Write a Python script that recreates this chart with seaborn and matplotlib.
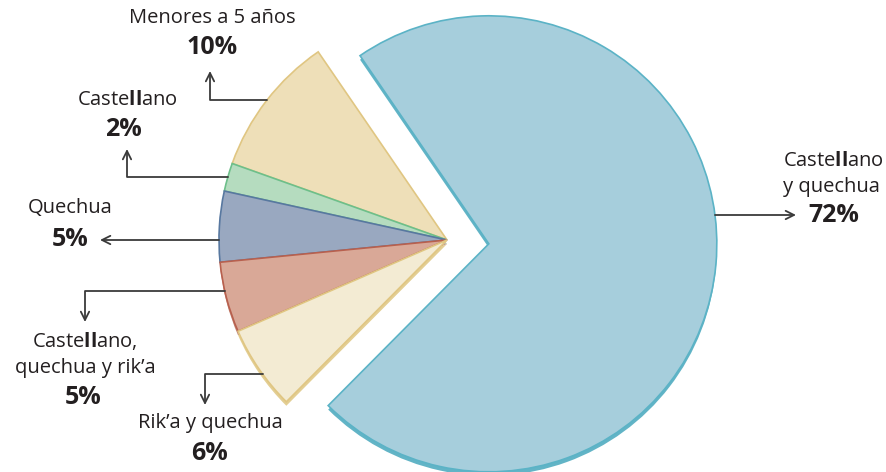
import numpy as np
import matplotlib
matplotlib.use('Agg')
import matplotlib.pyplot as plt
import seaborn as sns

# Data (shares in %)
categories = ['Menores a 5 años', 'Castellano', 'Quechua',
              'Castellano, quechua y rik’a', 'Rik’a y quechua', 'Castellano y quechua']
shares = [10, 2, 5, 5, 6, 72]
pct_labels = ['10%', '2%', '5%', '5%', '6%', '72%']
# label text as printed (bold "ll" like the original)
name_labels = ['Menores a 5 años',
               r'Caste$\mathbf{ll}$ano',
               'Quechua',
               r'Caste$\mathbf{ll}$ano,' + '\nquechua y rik’a',
               'Rik’a y quechua',
               r'Caste$\mathbf{ll}$ano' + '\ny quechua']

fill_colors = ['#EEDFB8', '#B5DCBF', '#99A8C0', '#D9A897', '#F3EBD3', '#A6CEDC']
edge_colors = ['#E0C682', '#6DBF8A', '#5878A0', '#B8604E', '#E0C682', '#5BB3C6']
shadow_colors = ['#E3CE93', '#8CC9A0', '#7788A8', '#C38878', '#E3CE93', '#62B4C6']

# layout (image pixel coords, y measured from the top)
W, H = 886, 472
pie_center = (447, 240)
pie_radius = 228
explode_px = [0, 0, 0, 0, 0, 42]
anchor_angles = [142, 164, None, 193, 216, None]   # None -> horizontal leader
arrow_tips = [(210, 71), (127, 149), (100, 240), (85, 322), (205, 405), (796, 215)]
arrow_styles = ['angle,angleA=0,angleB=90,rad=0'] * 2 + ['arc3'] + \
               ['angle,angleA=0,angleB=90,rad=0'] * 2 + ['arc3']
name_pos = [(212, 18), (127, 100), (70, 208), (85, 354), (210, 423), (783, 174)]
pct_pos = [(212, 48), (123, 130), (70, 240), (83, 397), (210, 453), (808, 216)]
name_ha = ['center'] * 5 + ['left']
pct_ha = ['center'] * 5 + ['left']

sns.set_theme(style='white')
plt.rcParams['font.family'] = ['Open Sans', 'DejaVu Sans']
plt.rcParams['mathtext.fontset'] = 'custom'
plt.rcParams['mathtext.rm'] = 'Open Sans'
plt.rcParams['mathtext.bf'] = 'Open Sans:bold'

text_color = '#231F20'
arrow_color = '#3A3A3A'

fig = plt.figure(figsize=(W / 100, H / 100), dpi=100)
ax = fig.add_axes([0, 0, 1, 1])

cx, cy = pie_center[0], H - pie_center[1]

# shadow layer, shifted a few pixels down
ax.pie(shares, explode=explode_px, startangle=124.4, counterclock=True,
       center=(cx, cy - 4), radius=pie_radius, colors=shadow_colors,
       wedgeprops=dict(linewidth=0))
wedges, _ = ax.pie(shares, explode=explode_px, startangle=124.4, counterclock=True,
                   center=(cx, cy), radius=pie_radius, colors=fill_colors,
                   wedgeprops=dict(linewidth=1.2))
for w, ec in zip(wedges, edge_colors):
    w.set_edgecolor(ec)

# leader lines and labels
for i, w in enumerate(wedges):
    wx, wy = w.center
    tip = (arrow_tips[i][0], H - arrow_tips[i][1])
    if anchor_angles[i] is None:
        # point on the arc at the tip's height, on the side of the tip
        dy = tip[1] - wy
        dx = np.sqrt(w.r ** 2 - dy ** 2) * np.sign(tip[0] - wx)
        start = (wx + dx, tip[1])
    else:
        a = np.deg2rad(anchor_angles[i])
        start = (wx + w.r * np.cos(a), wy + w.r * np.sin(a))
    ax.annotate('', xy=tip, xytext=start,
                arrowprops=dict(arrowstyle='->,head_length=0.6,head_width=0.3',
                                connectionstyle=arrow_styles[i], color=arrow_color,
                                lw=1.3, shrinkA=0, shrinkB=0, mutation_scale=10))
    ax.text(name_pos[i][0], H - name_pos[i][1], name_labels[i], ha=name_ha[i],
            va='center', fontsize=14.5, color=text_color, linespacing=1.35,
            multialignment='center' if name_ha[i] == 'center' else 'left')
    ax.text(pct_pos[i][0], H - pct_pos[i][1], pct_labels[i], ha=pct_ha[i],
            va='center', fontsize=18, fontweight='bold', color=text_color)

ax.set_xlim(0, W)
ax.set_ylim(0, H)
ax.set_aspect('equal')
ax.axis('off')

fig.savefig('out.png', dpi=100, facecolor='white')
